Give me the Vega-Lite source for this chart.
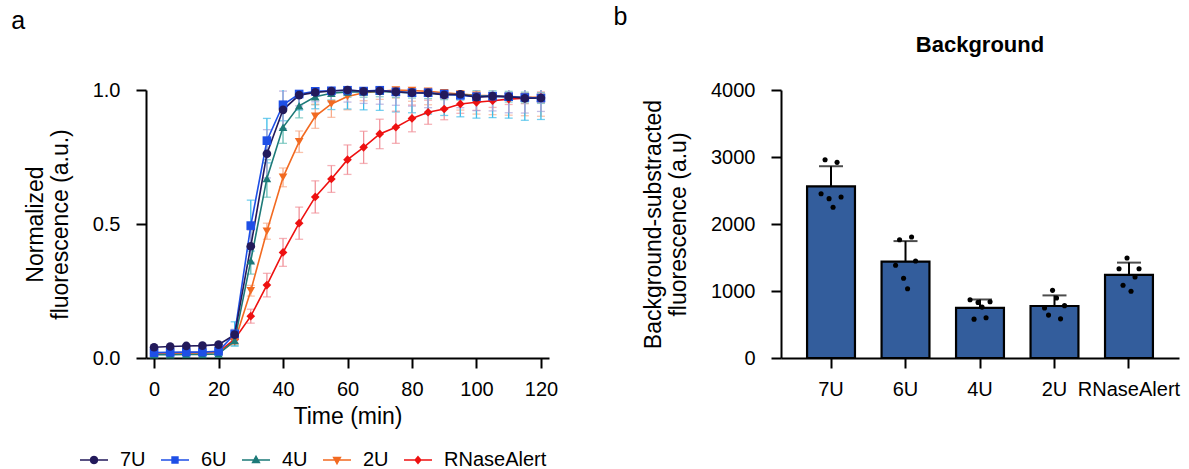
{
  "$schema": "https://vega.github.io/schema/vega-lite/v6.json",
  "background": "white",
  "padding": {"left": 11, "top": 5, "right": 5, "bottom": 0},
  "config": {
    "font": "Liberation Sans",
    "view": {"stroke": null},
    "axis": {
      "grid": false,
      "domainColor": "black",
      "domainWidth": 2,
      "tickColor": "black",
      "tickWidth": 2,
      "tickSize": 10,
      "labelFontSize": 20,
      "labelColor": "black",
      "labelPadding": 16,
      "titleFontSize": 23,
      "titleColor": "black",
      "titleFontWeight": "normal"
    },
    "axisX": {"labelPadding": 11},
    "title": {"color": "black"}
  },
  "datasets": {
    "curves": [
      {"s": "RNaseAlert", "t": 0, "y": 0.018, "sd": 0.005},
      {"s": "RNaseAlert", "t": 5, "y": 0.019, "sd": 0.005},
      {"s": "RNaseAlert", "t": 10, "y": 0.02, "sd": 0.005},
      {"s": "RNaseAlert", "t": 15, "y": 0.02, "sd": 0.005},
      {"s": "RNaseAlert", "t": 20, "y": 0.022, "sd": 0.005},
      {"s": "RNaseAlert", "t": 25, "y": 0.07, "sd": 0.015},
      {"s": "RNaseAlert", "t": 30, "y": 0.156, "sd": 0.026},
      {"s": "RNaseAlert", "t": 35, "y": 0.272, "sd": 0.044},
      {"s": "RNaseAlert", "t": 40, "y": 0.394, "sd": 0.052},
      {"s": "RNaseAlert", "t": 45, "y": 0.503, "sd": 0.06},
      {"s": "RNaseAlert", "t": 50, "y": 0.601, "sd": 0.06},
      {"s": "RNaseAlert", "t": 55, "y": 0.668, "sd": 0.05},
      {"s": "RNaseAlert", "t": 60, "y": 0.74, "sd": 0.055},
      {"s": "RNaseAlert", "t": 65, "y": 0.786, "sd": 0.06},
      {"s": "RNaseAlert", "t": 70, "y": 0.836, "sd": 0.055},
      {"s": "RNaseAlert", "t": 75, "y": 0.861, "sd": 0.06},
      {"s": "RNaseAlert", "t": 80, "y": 0.894, "sd": 0.05},
      {"s": "RNaseAlert", "t": 85, "y": 0.917, "sd": 0.045},
      {"s": "RNaseAlert", "t": 90, "y": 0.929, "sd": 0.04},
      {"s": "RNaseAlert", "t": 95, "y": 0.948, "sd": 0.035},
      {"s": "RNaseAlert", "t": 100, "y": 0.954, "sd": 0.03},
      {"s": "RNaseAlert", "t": 105, "y": 0.96, "sd": 0.025},
      {"s": "RNaseAlert", "t": 110, "y": 0.966, "sd": 0.02},
      {"s": "RNaseAlert", "t": 115, "y": 0.969, "sd": 0.02},
      {"s": "RNaseAlert", "t": 120, "y": 0.973, "sd": 0.02},
      {"s": "2U", "t": 0, "y": 0.018, "sd": 0.005},
      {"s": "2U", "t": 5, "y": 0.018, "sd": 0.005},
      {"s": "2U", "t": 10, "y": 0.019, "sd": 0.005},
      {"s": "2U", "t": 15, "y": 0.019, "sd": 0.005},
      {"s": "2U", "t": 20, "y": 0.02, "sd": 0.005},
      {"s": "2U", "t": 25, "y": 0.061, "sd": 0.01},
      {"s": "2U", "t": 30, "y": 0.251, "sd": 0.02},
      {"s": "2U", "t": 35, "y": 0.473, "sd": 0.03},
      {"s": "2U", "t": 40, "y": 0.674, "sd": 0.035},
      {"s": "2U", "t": 45, "y": 0.807, "sd": 0.04},
      {"s": "2U", "t": 50, "y": 0.902, "sd": 0.045},
      {"s": "2U", "t": 55, "y": 0.948, "sd": 0.05},
      {"s": "2U", "t": 60, "y": 0.976, "sd": 0.05},
      {"s": "2U", "t": 65, "y": 0.99, "sd": 0.03},
      {"s": "2U", "t": 70, "y": 0.995, "sd": 0.03},
      {"s": "2U", "t": 75, "y": 1.0, "sd": 0.03},
      {"s": "2U", "t": 80, "y": 0.998, "sd": 0.04},
      {"s": "2U", "t": 85, "y": 0.995, "sd": 0.05},
      {"s": "2U", "t": 90, "y": 0.99, "sd": 0.06},
      {"s": "2U", "t": 95, "y": 0.985, "sd": 0.06},
      {"s": "2U", "t": 100, "y": 0.98, "sd": 0.07},
      {"s": "2U", "t": 105, "y": 0.978, "sd": 0.07},
      {"s": "2U", "t": 110, "y": 0.976, "sd": 0.07},
      {"s": "2U", "t": 115, "y": 0.974, "sd": 0.07},
      {"s": "2U", "t": 120, "y": 0.972, "sd": 0.07},
      {"s": "4U", "t": 0, "y": 0.012, "sd": 0.005},
      {"s": "4U", "t": 5, "y": 0.012, "sd": 0.005},
      {"s": "4U", "t": 10, "y": 0.013, "sd": 0.005},
      {"s": "4U", "t": 15, "y": 0.013, "sd": 0.005},
      {"s": "4U", "t": 20, "y": 0.015, "sd": 0.005},
      {"s": "4U", "t": 25, "y": 0.065, "sd": 0.02},
      {"s": "4U", "t": 30, "y": 0.363, "sd": 0.05},
      {"s": "4U", "t": 35, "y": 0.67, "sd": 0.07},
      {"s": "4U", "t": 40, "y": 0.861, "sd": 0.06},
      {"s": "4U", "t": 45, "y": 0.941, "sd": 0.045},
      {"s": "4U", "t": 50, "y": 0.975, "sd": 0.03},
      {"s": "4U", "t": 55, "y": 0.988, "sd": 0.025},
      {"s": "4U", "t": 60, "y": 0.993, "sd": 0.02},
      {"s": "4U", "t": 65, "y": 0.993, "sd": 0.02},
      {"s": "4U", "t": 70, "y": 0.995, "sd": 0.02},
      {"s": "4U", "t": 75, "y": 0.992, "sd": 0.02},
      {"s": "4U", "t": 80, "y": 0.99, "sd": 0.02},
      {"s": "4U", "t": 85, "y": 0.988, "sd": 0.02},
      {"s": "4U", "t": 90, "y": 0.984, "sd": 0.02},
      {"s": "4U", "t": 95, "y": 0.982, "sd": 0.02},
      {"s": "4U", "t": 100, "y": 0.978, "sd": 0.02},
      {"s": "4U", "t": 105, "y": 0.977, "sd": 0.02},
      {"s": "4U", "t": 110, "y": 0.975, "sd": 0.02},
      {"s": "4U", "t": 115, "y": 0.972, "sd": 0.02},
      {"s": "4U", "t": 120, "y": 0.97, "sd": 0.02},
      {"s": "6U", "t": 0, "y": 0.02, "sd": 0.005},
      {"s": "6U", "t": 5, "y": 0.021, "sd": 0.005},
      {"s": "6U", "t": 10, "y": 0.022, "sd": 0.005},
      {"s": "6U", "t": 15, "y": 0.022, "sd": 0.005},
      {"s": "6U", "t": 20, "y": 0.025, "sd": 0.005},
      {"s": "6U", "t": 25, "y": 0.09, "sd": 0.045},
      {"s": "6U", "t": 30, "y": 0.494, "sd": 0.095},
      {"s": "6U", "t": 35, "y": 0.811, "sd": 0.083},
      {"s": "6U", "t": 40, "y": 0.945, "sd": 0.06},
      {"s": "6U", "t": 45, "y": 0.985, "sd": 0.06},
      {"s": "6U", "t": 50, "y": 0.995, "sd": 0.065},
      {"s": "6U", "t": 55, "y": 0.997, "sd": 0.07},
      {"s": "6U", "t": 60, "y": 0.999, "sd": 0.07},
      {"s": "6U", "t": 65, "y": 0.996, "sd": 0.07},
      {"s": "6U", "t": 70, "y": 0.999, "sd": 0.075},
      {"s": "6U", "t": 75, "y": 0.993, "sd": 0.075},
      {"s": "6U", "t": 80, "y": 0.99, "sd": 0.075},
      {"s": "6U", "t": 85, "y": 0.99, "sd": 0.08},
      {"s": "6U", "t": 90, "y": 0.985, "sd": 0.08},
      {"s": "6U", "t": 95, "y": 0.98, "sd": 0.08},
      {"s": "6U", "t": 100, "y": 0.975, "sd": 0.08},
      {"s": "6U", "t": 105, "y": 0.977, "sd": 0.08},
      {"s": "6U", "t": 110, "y": 0.975, "sd": 0.08},
      {"s": "6U", "t": 115, "y": 0.972, "sd": 0.085},
      {"s": "6U", "t": 120, "y": 0.97, "sd": 0.08},
      {"s": "7U", "t": 0, "y": 0.04, "sd": 0.005},
      {"s": "7U", "t": 5, "y": 0.043, "sd": 0.005},
      {"s": "7U", "t": 10, "y": 0.045, "sd": 0.005},
      {"s": "7U", "t": 15, "y": 0.046, "sd": 0.005},
      {"s": "7U", "t": 20, "y": 0.05, "sd": 0.005},
      {"s": "7U", "t": 25, "y": 0.087, "sd": 0.02},
      {"s": "7U", "t": 30, "y": 0.417, "sd": 0.06},
      {"s": "7U", "t": 35, "y": 0.762, "sd": 0.09},
      {"s": "7U", "t": 40, "y": 0.926, "sd": 0.07},
      {"s": "7U", "t": 45, "y": 0.981, "sd": 0.04},
      {"s": "7U", "t": 50, "y": 0.991, "sd": 0.035},
      {"s": "7U", "t": 55, "y": 0.996, "sd": 0.04},
      {"s": "7U", "t": 60, "y": 1.0, "sd": 0.045},
      {"s": "7U", "t": 65, "y": 0.995, "sd": 0.045},
      {"s": "7U", "t": 70, "y": 0.997, "sd": 0.05},
      {"s": "7U", "t": 75, "y": 0.993, "sd": 0.05},
      {"s": "7U", "t": 80, "y": 0.99, "sd": 0.05},
      {"s": "7U", "t": 85, "y": 0.989, "sd": 0.055},
      {"s": "7U", "t": 90, "y": 0.982, "sd": 0.05},
      {"s": "7U", "t": 95, "y": 0.984, "sd": 0.05},
      {"s": "7U", "t": 100, "y": 0.973, "sd": 0.05},
      {"s": "7U", "t": 105, "y": 0.977, "sd": 0.055},
      {"s": "7U", "t": 110, "y": 0.975, "sd": 0.06},
      {"s": "7U", "t": 115, "y": 0.969, "sd": 0.055},
      {"s": "7U", "t": 120, "y": 0.97, "sd": 0.05}
    ],
    "bg": [
      {"g": "7U", "rep": 1, "v": 2452}, {"g": "7U", "rep": 2, "v": 2960}, {"g": "7U", "rep": 3, "v": 2378},
      {"g": "7U", "rep": 4, "v": 2249}, {"g": "7U", "rep": 5, "v": 2920}, {"g": "7U", "rep": 6, "v": 2403},
      {"g": "6U", "rep": 1, "v": 1384}, {"g": "6U", "rep": 2, "v": 1766}, {"g": "6U", "rep": 3, "v": 1190},
      {"g": "6U", "rep": 4, "v": 1034}, {"g": "6U", "rep": 5, "v": 1806}, {"g": "6U", "rep": 6, "v": 1448},
      {"g": "4U", "rep": 1, "v": 870}, {"g": "4U", "rep": 2, "v": 580}, {"g": "4U", "rep": 3, "v": 830},
      {"g": "4U", "rep": 4, "v": 760}, {"g": "4U", "rep": 5, "v": 600}, {"g": "4U", "rep": 6, "v": 840},
      {"g": "2U", "rep": 1, "v": 746}, {"g": "2U", "rep": 2, "v": 640}, {"g": "2U", "rep": 3, "v": 1010},
      {"g": "2U", "rep": 4, "v": 895}, {"g": "2U", "rep": 5, "v": 584}, {"g": "2U", "rep": 6, "v": 781},
      {"g": "RNaseAlert", "rep": 1, "v": 1333}, {"g": "RNaseAlert", "rep": 2, "v": 1085}, {"g": "RNaseAlert", "rep": 3, "v": 1493},
      {"g": "RNaseAlert", "rep": 4, "v": 996}, {"g": "RNaseAlert", "rep": 5, "v": 1209}, {"g": "RNaseAlert", "rep": 6, "v": 1333}
    ]
  },
  "spacing": 55,
  "hconcat": [
    {
      "title": {"text": "a", "anchor": "start", "frame": "bounds", "fontSize": 25, "fontWeight": "normal", "dx": -13, "offset": 46},
      "width": 403,
      "height": 268,
      "data": {"name": "curves"},
      "resolve": {"scale": {"color": "independent", "shape": "independent", "stroke": "independent"}},
      "layer": [
        {
          "mark": {"type": "errorbar", "clip": true, "ticks": {"size": 8, "thickness": 1.3}, "rule": {"strokeWidth": 1.3}},
          "encoding": {
            "x": {"field": "t", "type": "quantitative", "scale": {"domain": [-2.5, 122.5], "nice": false}, "axis": {"values": [0, 20, 40, 60, 80, 100, 120], "title": "Time (min)", "titlePadding": 6}},
            "y": {"field": "y", "type": "quantitative", "scale": {"domain": [0, 1], "nice": false}, "axis": {"values": [0, 0.5, 1], "format": ".1f", "title": ["Normalized", "fluorescence (a.u.)"], "titlePadding": 20}},
            "yError": {"field": "sd"},
            "color": {"field": "s", "type": "nominal", "legend": null,
              "scale": {"domain": ["7U", "6U", "4U", "2U", "RNaseAlert"], "range": ["#ab9fd8", "#3bbbe8", "#62bdb5", "#f8ab8a", "#f1929a"]}}
          }
        },
        {
          "mark": {"type": "line", "strokeWidth": 1.6},
          "encoding": {
            "x": {"field": "t", "type": "quantitative"},
            "y": {"field": "y", "type": "quantitative"},
            "color": {"field": "s", "type": "nominal", "legend": null,
              "scale": {"domain": ["7U", "6U", "4U", "2U", "RNaseAlert"], "range": ["#231a5b", "#1e4fe6", "#1d7a78", "#f26a21", "#ee1111"]}}
          }
        },
        {
          "mark": {"type": "point", "filled": true, "size": 75, "opacity": 1},
          "encoding": {
            "x": {"field": "t", "type": "quantitative"},
            "y": {"field": "y", "type": "quantitative"},
            "shape": {"field": "s", "type": "nominal", "legend": null,
              "scale": {"domain": ["7U", "6U", "4U", "2U", "RNaseAlert"], "range": ["circle", "square", "triangle-up", "triangle-down", "diamond"]}},
            "color": {"field": "s", "type": "nominal", "legend": null,
              "scale": {"domain": ["7U", "6U", "4U", "2U", "RNaseAlert"], "range": ["#231a5b", "#1e4fe6", "#1d7a78", "#f26a21", "#ee1111"]}}
          }
        },
        {
          "transform": [{"filter": "datum.t < 0"}],
          "mark": {"type": "point", "filled": true, "opacity": 1, "strokeWidth": 1.5},
          "encoding": {
            "x": {"field": "t", "type": "quantitative"},
            "y": {"field": "y", "type": "quantitative"},
            "shape": {"field": "s", "type": "nominal",
              "scale": {"domain": ["7U", "6U", "4U", "2U", "RNaseAlert"], "range": [
                "M-1,0H1M0.25,0L0.2165,0.125L0.125,0.2165L0,0.25L-0.125,0.2165L-0.2165,0.125L-0.25,0L-0.2165,-0.125L-0.125,-0.2165L0,-0.25L0.125,-0.2165L0.2165,-0.125Z",
                "M-1,0H1M-0.21,-0.21H0.21V0.21H-0.21Z",
                "M-1,0H1M0,-0.26L0.24,0.17H-0.24Z",
                "M-1,0H1M0,0.26L0.24,-0.17H-0.24Z",
                "M-1,0H1M0,-0.24L0.2,0L0,0.24L-0.2,0Z"]}},
            "stroke": {"field": "s", "type": "nominal",
              "scale": {"domain": ["7U", "6U", "4U", "2U", "RNaseAlert"], "range": ["#231a5b", "#1e4fe6", "#1d7a78", "#f26a21", "#ee1111"]}},
            "color": {"field": "s", "type": "nominal",
              "scale": {"domain": ["7U", "6U", "4U", "2U", "RNaseAlert"], "range": ["#231a5b", "#1e4fe6", "#1d7a78", "#f26a21", "#ee1111"]},
              "legend": {
                "orient": "none", "legendX": -67, "legendY": 355, "direction": "horizontal", "title": null,
                "labelFontSize": 20, "labelColor": "black", "symbolSize": 784, "columnPadding": 12, "labelOffset": 11,
                "symbolStrokeWidth": 1.5, "symbolOpacity": 1
              }}
          }
        }
      ]
    },
    {
      "title": {"text": "b", "anchor": "start", "frame": "bounds", "fontSize": 25, "fontWeight": "normal", "dx": -29, "offset": 4},
      "vconcat": [
        {
          "title": {"text": "Background", "fontSize": 22, "fontWeight": "bold", "anchor": "middle", "frame": "group", "offset": 23},
          "width": 398,
          "height": 268,
          "data": {"name": "bg"},
          "encoding": {
            "x": {"field": "g", "type": "nominal", "sort": ["7U", "6U", "4U", "2U", "RNaseAlert"],
              "scale": {"type": "band", "paddingInner": 0.357, "paddingOuter": 0.35},
              "axis": {"title": null, "labelAngle": 0}}
          },
          "resolve": {"scale": {"xOffset": "independent"}},
          "layer": [
            {
              "mark": {"type": "errorbar", "extent": "stdev", "color": "black", "ticks": {"size": 24, "thickness": 2}, "rule": {"strokeWidth": 2}},
              "encoding": {
                "y": {"field": "v", "type": "quantitative", "scale": {"domain": [0, 4000], "nice": false},
                  "axis": {"values": [0, 1000, 2000, 3000, 4000], "format": "d", "title": ["Background-substracted", "fluorescence (a.u)"], "titlePadding": 20}}
              }
            },
            {
              "mark": {"type": "bar", "fill": "#335d9c", "stroke": "black", "strokeWidth": 2.2},
              "encoding": {
                "y": {"aggregate": "mean", "field": "v", "type": "quantitative"}
              }
            },
            {
              "mark": {"type": "circle", "size": 26, "color": "black", "opacity": 1},
              "encoding": {
                "xOffset": {"field": "rep", "type": "nominal", "scale": {"type": "point", "range": [14, 34], "padding": 0}},
                "y": {"field": "v", "type": "quantitative"}
              }
            }
          ]
        }
      ]
    }
  ]
}
